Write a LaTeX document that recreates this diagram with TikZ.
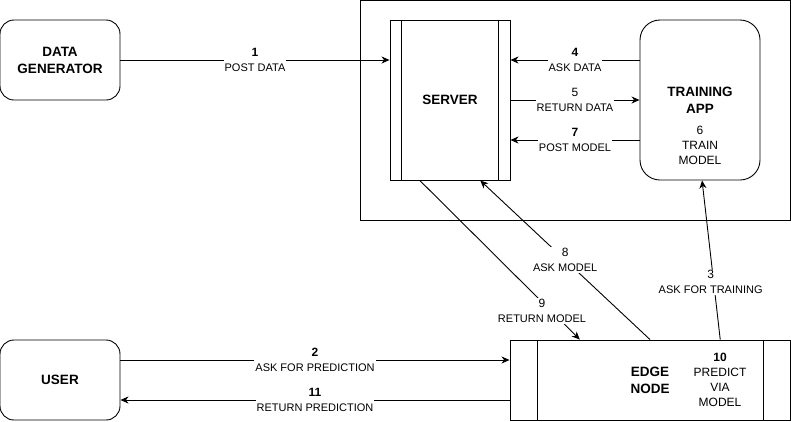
\documentclass[tikz,border=0pt]{standalone}
\usepackage{fontspec}
\setmainfont{Liberation Sans}
\usetikzlibrary{arrows.meta,calc}
\begin{document}
\begin{tikzpicture}[x=1pt,y=-1pt,
  line width=0.9pt,
  title/.style={font=\fontsize{13.5}{17}\selectfont\bfseries,align=center},
  body/.style={font=\fontsize{12}{15}\selectfont,align=center},
  rbox/.style={draw,rounded corners=14pt,minimum width=120pt,minimum height=80pt,inner sep=0pt,title},
  tbox/.style={draw,rounded corners=20pt,minimum width=120pt,minimum height=160pt,inner sep=0pt},
  plainbox/.style={draw,minimum width=#1,inner sep=0pt},
  arr/.style={-{Stealth[length=8pt,width=7pt,inset=2.5pt]}},
  lab/.style={fill=white,inner sep=1pt,align=center,font=\fontsize{11}{15}\selectfont},
  bnum/.style={font=\fontsize{12}{15}\selectfont\bfseries},
  num/.style={font=\fontsize{12}{15}\selectfont}
]
\useasboundingbox (0,0) rectangle (791,421);
% outer container
\node[draw,minimum width=430pt,minimum height=220pt,inner sep=0pt] (outer) at (575,110) {};
% nodes
\node[rbox] (dg) at (60,60) {DATA\\GENERATOR};
\node[rbox] (user) at (60,380) {USER};
\node[draw,minimum width=120pt,minimum height=160pt,inner sep=0pt,title] (server) at (450,100) {SERVER};
\draw ([xshift=12pt]server.north west) -- ([xshift=12pt]server.south west);
\draw ([xshift=-12pt]server.north east) -- ([xshift=-12pt]server.south east);
\node[tbox] (train) at (700,100) {};
\node[title] (traint) at (700,100.5) {TRAINING\\APP};
\node[body] (trainb) at (700,145) {6\\TRAIN\\MODEL};
\node[draw,minimum width=280pt,minimum height=80pt,inner sep=0pt] (edge) at (650,380) {};
\draw ([xshift=28pt]edge.north west) -- ([xshift=28pt]edge.south west);
\draw ([xshift=-27pt]edge.north east) -- ([xshift=-27pt]edge.south east);
\node[title] (edget) at (650,380.5) {EDGE\\NODE};
\node[body] (edgeb) at (720,380) {\textbf{10}\\PREDICT\\VIA\\MODEL};
% connectors
\draw[arr] (dg.east) -- node[lab]{\textbf{\fontsize{12}{15}\selectfont 1}\\POST DATA} (dg.east -| server.west);
\draw[arr] ([yshift=40pt]train.west) -- node[lab]{\textbf{\fontsize{12}{15}\selectfont 4}\\ASK DATA} ([yshift=40pt]server.east);
\draw[arr] (server.east) -- node[lab]{{\fontsize{12}{15}\selectfont 5}\\RETURN DATA} (train.west);
\draw[arr] ([yshift=-40pt]train.west) -- node[lab]{\textbf{\fontsize{12}{15}\selectfont 7}\\POST MODEL} ([yshift=-40pt]server.east);
\draw[arr] (edge.north) -- node[lab]{{\fontsize{12}{15}\selectfont 8}\\ASK MODEL} ($(server.south west)!0.75!(server.south east)$);
\draw[arr] ($(server.south west)!0.25!(server.south east)$) -- node[lab,pos=0.82,xshift=-9pt]{{\fontsize{12}{15}\selectfont 9}\\RETURN MODEL} ($(edge.north west)!0.25!(edge.north east)$);
\draw[arr] ($(edge.north west)!0.75!(edge.north east)$) -- node[lab,pos=0.36,xshift=-3pt]{{\fontsize{12}{15}\selectfont 3}\\ASK FOR TRAINING} ($(train.south west)!0.517!(train.south east)$);
\draw[arr] ([yshift=20pt]user.east) -- node[lab]{\textbf{\fontsize{12}{15}\selectfont 2}\\ASK FOR PREDICTION} ([yshift=20pt]edge.west);
\draw[arr] ([yshift=-20pt]edge.west) -- node[lab]{\textbf{\fontsize{12}{15}\selectfont 11}\\RETURN PREDICTION} ([yshift=-20pt]user.east);
\end{tikzpicture}
\end{document}
